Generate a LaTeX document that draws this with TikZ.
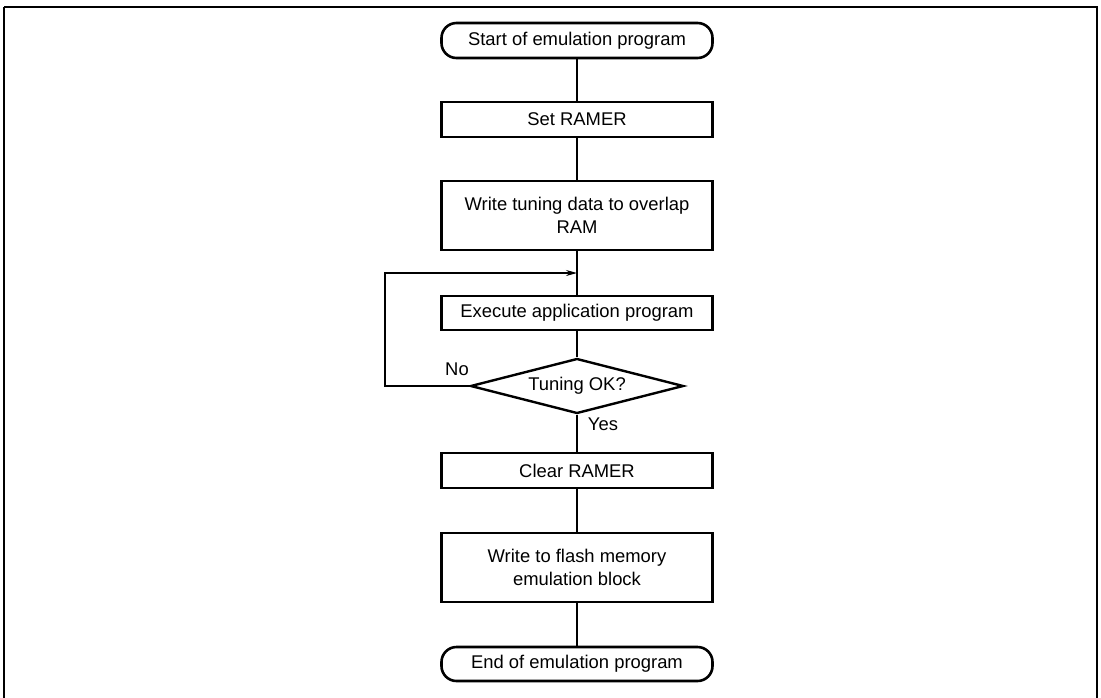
\documentclass[tikz,border=0pt]{standalone}
\usepackage{fontspec}
\setmainfont{Liberation Sans}
\usetikzlibrary{shapes.geometric,arrows.meta}
\tikzset{
  procbox/.style={draw,line width=2.6pt,minimum width=271pt,inner sep=0pt,align=center,font=\fontsize{18.4pt}{23pt}\selectfont},
  termbox/.style={procbox,rounded corners=15pt},
  decbox/.style={draw,diamond,line width=2.4pt,minimum width=213pt,minimum height=55pt,aspect=3.87,inner sep=0pt,font=\fontsize{18.4pt}{23pt}\selectfont},
  conn/.style={line width=1.1pt},
  lbl/.style={font=\fontsize{18.4pt}{23pt}\selectfont,inner sep=0pt}
}
\begin{document}
\begin{tikzpicture}[x=1pt,y=-1pt]
\useasboundingbox (0,0) rectangle (1101,697);
\draw[line width=2.2pt] (4,7) -- (1097,7) -- (1097,705) (4,7) -- (4,705);
\node[termbox,minimum height=35pt] (start) at (577,40.5) {Start of emulation program};
\node[procbox,minimum height=35pt] (set) at (577,119.5) {Set RAMER};
\node[procbox,minimum height=69pt] (tune) at (577,215.5) {Write tuning data to overlap\\RAM};
\node[procbox,minimum height=34pt] (exec) at (577,313) {Execute application program};
\node[decbox] (dec) at (577,386) {Tuning OK?};
\node[procbox,minimum height=35pt] (clear) at (577,470.5) {Clear RAMER};
\node[procbox,minimum height=69pt] (flash) at (577,567.5) {Write to flash memory\\emulation block};
\node[termbox,minimum height=34pt] (end) at (577,664) {End of emulation program};
\coordinate (loopin) at (577,273);
\coordinate (lc1) at (385,386);
\coordinate (lc2) at (385,273);
\draw[conn] (start) -- (set);
\draw[conn] (set) -- (tune);
\draw[conn] (tune) -- (exec);
\draw[conn] (exec) -- (dec);
\draw[conn] (dec) -- (clear);
\draw[conn] (clear) -- (flash);
\draw[conn] (flash) -- (end);
\draw[conn,-{Stealth[length=11pt,width=6pt]}] (dec.west) -- (lc1) -- (lc2) -- (loopin);
\node[lbl] (no) at (457,369) {No};
\node[lbl] (yes) at (603,424) {Yes};
\end{tikzpicture}
\end{document}
